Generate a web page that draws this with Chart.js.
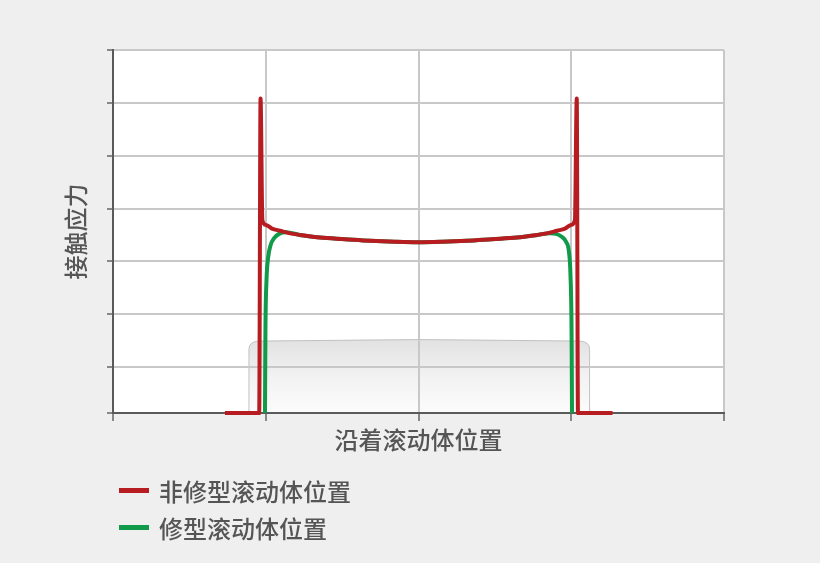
<!DOCTYPE html>
<html>
<head>
<meta charset="utf-8">
<script src="https://cdn.jsdelivr.net/npm/chart.js@4/dist/chart.umd.min.js"></script>
<style>
  html, body { margin: 0; padding: 0; background: #efefef; }
  #wrap { position: relative; width: 820px; height: 563px; }
  #legend { position: absolute; left: 119px; top: 472px; font-family: "Noto Sans CJK SC", sans-serif; font-size: 24px; font-weight: 500; color: #555; }
  .item { display: flex; align-items: center; height: 37px; }
  .swatch { width: 30px; height: 5px; margin-right: 10px; }
</style>
</head>
<body>
<div id="wrap">
  <canvas id="chart" width="820" height="563"></canvas>
  <div id="legend"></div>
</div>
<script>
const seriesNames = ['非修型滚动体位置', '修型滚动体位置'];
const xTitle = '沿着滚动体位置';
const yTitle = '接触应力';

// 非修型 (red)
const redX = [0.733, 0.957, 0.966, 0.978, 1.002, 1.041, 1.093, 1.159, 1.224, 1.355, 1.519, 1.683, 1.846, 2.0,
  2.154, 2.317, 2.481, 2.645, 2.776, 2.841, 2.907, 2.959, 2.998, 3.024, 3.036, 3.044, 3.27];
const redY = [0.13, 0.13, 6.08, 3.78, 3.69, 3.62, 3.58, 3.53, 3.50, 3.45, 3.42, 3.39, 3.37, 3.36,
  3.37, 3.39, 3.42, 3.45, 3.50, 3.53, 3.58, 3.62, 3.69, 3.78, 6.08, 0.13, 0.13];

// 修型 (green)
const greenX = [0.995, 0.998, 1.005, 1.015, 1.032, 1.055, 1.087, 1.133, 1.224, 1.355, 1.519, 1.683, 1.846, 2.0,
  2.154, 2.317, 2.481, 2.645, 2.776, 2.86, 2.90, 2.94, 2.966, 2.985, 2.995, 3.002, 3.005];
const greenY = [0.13, 1.70, 2.65, 3.06, 3.31, 3.44, 3.52, 3.55, 3.50, 3.45, 3.42, 3.39, 3.37, 3.36,
  3.37, 3.39, 3.42, 3.45, 3.50, 3.53, 3.52, 3.46, 3.37, 3.18, 2.74, 1.70, 0.13];

const yTicks = [0.13, 1, 2, 3, 4, 5, 6, 7];
const xTicks = [0, 1, 2, 3, 4];

// rolling element outline (data units)
const roller = { x0: 0.89, x1: 3.12, top: 1.51 };

const colors = ['#b71c21', '#109a4a'];

function pts(xs, ys) {
  return xs.map((x, i) => ({ x: x, y: ys[i] }));
}

// 白い描画領域と滚动体の図形（グリッドの下に描く）
const backdrop = {
  id: 'backdrop',
  beforeDraw(chart) {
    const { ctx, chartArea, scales } = chart;
    ctx.save();
    ctx.fillStyle = '#ffffff';
    ctx.fillRect(chartArea.left, chartArea.top, chartArea.right - chartArea.left, chartArea.bottom - chartArea.top);

    const l = scales.x.getPixelForValue(roller.x0);
    const r = scales.x.getPixelForValue(roller.x1);
    const t = scales.y.getPixelForValue(roller.top);
    const b = chartArea.bottom;
    const rad = 9;
    const g = ctx.createLinearGradient(0, t, 0, b);
    g.addColorStop(0, '#e2e2e2');
    g.addColorStop(0.5, '#f2f2f2');
    g.addColorStop(1, '#fcfcfc');
    ctx.beginPath();
    ctx.moveTo(l, b);
    ctx.lineTo(l, t + rad);
    ctx.quadraticCurveTo(l, t + 2, l + rad, t + 1);
    ctx.quadraticCurveTo((l + r) / 2, t - 2, r - rad, t + 1);
    ctx.quadraticCurveTo(r, t + 2, r, t + rad);
    ctx.lineTo(r, b);
    ctx.closePath();
    ctx.fillStyle = g;
    ctx.fill();
    ctx.strokeStyle = '#c2c2c2';
    ctx.lineWidth = 1;
    ctx.stroke();
    ctx.restore();
  }
};

const ctx = document.getElementById('chart').getContext('2d');
const chart = new Chart(ctx, {
  type: 'line',
  data: {
    datasets: [
      { label: seriesNames[0], data: pts(redX, redY), borderColor: colors[0], backgroundColor: colors[0] },
      { label: seriesNames[1], data: pts(greenX, greenY), borderColor: colors[1], backgroundColor: colors[1] }
    ]
  },
  options: {
    responsive: false,
    animation: false,
    devicePixelRatio: 1,
    layout: { padding: { left: 61, right: 96, top: 50, bottom: 109 } },
    elements: {
      point: { radius: 0 },
      line: { borderWidth: 4, cubicInterpolationMode: 'monotone', borderJoinStyle: 'round' }
    },
    datasets: { line: { clip: false } },
    plugins: { legend: { display: false }, tooltip: { enabled: false } },
    scales: {
      x: {
        type: 'linear', min: 0, max: 4,
        afterBuildTicks: (s) => { s.ticks = xTicks.map(v => ({ value: v })); },
        afterFit: (s) => { s.height = 41; },
        ticks: { display: false },
        grid: { color: '#c8c8c8', lineWidth: 2, tickColor: '#666', tickLength: 8, tickWidth: 1.5 },
        border: { color: '#5a5a5a', width: 2 },
        title: { display: true, text: xTitle, color: '#555', padding: 0,
          font: { family: '"Noto Sans CJK SC", sans-serif', size: 24, weight: 500 } }
      },
      y: {
        min: 0.13, max: 7,
        afterBuildTicks: (s) => { s.ticks = yTicks.map(v => ({ value: v })); },
        afterFit: (s) => { s.width = 52; },
        ticks: { display: false },
        grid: { color: '#c8c8c8', lineWidth: 2, tickColor: '#666', tickLength: 6, tickWidth: 1.5 },
        border: { color: '#5a5a5a', width: 2 },
        title: { display: true, text: yTitle, color: '#555', padding: 0,
          font: { family: '"Noto Sans CJK SC", sans-serif', size: 24, weight: 500 } }
      }
    }
  },
  plugins: [backdrop]
});

// HTMLの凡例
const legend = document.getElementById('legend');
chart.data.datasets.forEach(ds => {
  const item = document.createElement('div');
  item.className = 'item';
  const sw = document.createElement('span');
  sw.className = 'swatch';
  sw.style.background = ds.borderColor;
  const txt = document.createElement('span');
  txt.textContent = ds.label;
  item.appendChild(sw);
  item.appendChild(txt);
  legend.appendChild(item);
});
</script>
</body>
</html>
